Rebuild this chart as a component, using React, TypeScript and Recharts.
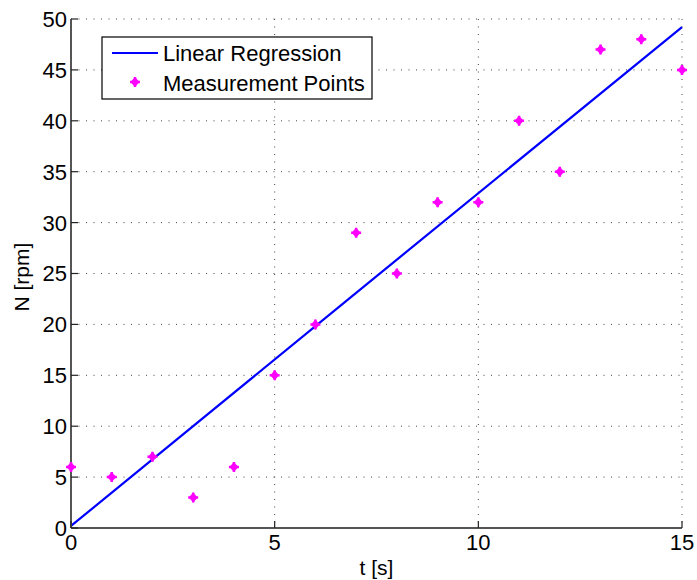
import React from 'react';
import {
  ComposedChart,
  Line,
  Scatter,
  XAxis,
  YAxis,
  CartesianGrid,
} from 'recharts';

// measurement points
const timeValues = [0, 1, 2, 3, 4, 5, 6, 7, 8, 9, 10, 11, 12, 13, 14, 15];
const rpmValues = [6, 5, 7, 3, 6, 15, 20, 29, 25, 32, 32, 40, 35, 47, 48, 45];

// regression line, read at its ends and middle
const fitTime = [0, 7, 15];
const fitRpm = [0.2, 23.1, 49.2];

const xTicks = [0, 5, 10, 15];
const yTicks = [0, 5, 10, 15, 20, 25, 30, 35, 40, 45, 50];
const xMinorTicks = Array.from({ length: 76 }, (_, i) => i / 5);
const yMinorTicks = Array.from({ length: 51 }, (_, i) => i);

const FONT = '"Liberation Sans", Arial, Helvetica, sans-serif';
const MAGENTA = '#ff00ff';
const BLUE = '#0000ff';

const points = timeValues.map((t, i) => ({ t, n: rpmValues[i] }));
const fitLine = fitTime.map((t, i) => ({ t, n: fitRpm[i] }));

function Marker({ cx, cy }: any) {
  if (cx == null || cy == null) return null;
  return (
    <g>
      <path
        d={`M${cx},${cy - 5} L${cx + 4.5},${cy} L${cx},${cy + 5} L${cx - 4.5},${cy} Z`}
        fill={MAGENTA}
      />
      <path
        d={`M${cx - 5},${cy} L${cx + 5},${cy} M${cx},${cy - 5} L${cx},${cy + 5}`}
        stroke={MAGENTA}
        strokeWidth={2.5}
      />
    </g>
  );
}

function XTick({ x, y, payload }: any) {
  return (
    <g>
      <line x1={x} x2={x} y1={y} y2={y - 7} stroke="#222" strokeWidth={1.2} />
      <text x={x} y={y + 22} textAnchor="middle" fontSize={22} fontFamily={FONT} fill="#000">
        {payload.value}
      </text>
    </g>
  );
}

function YTick({ x, y, payload }: any) {
  return (
    <g>
      <line x1={x} x2={x + 7} y1={y} y2={y} stroke="#222" strokeWidth={1.2} />
      <text x={x - 4} y={y} dy="0.36em" textAnchor="end" fontSize={22} fontFamily={FONT} fill="#000">
        {payload.value}
      </text>
    </g>
  );
}

function LegendBox() {
  return (
    <svg
      width={272}
      height={64}
      style={{ position: 'absolute', left: 101, top: 36 }}
    >
      <rect x={1} y={1} width={270} height={62} fill="#fff" stroke="#000" strokeWidth={1.2} />
      <line x1={11} x2={57} y1={17} y2={17} stroke={BLUE} strokeWidth={2} />
      <text x={62} y={25} fontSize={22} fontFamily={FONT} fill="#000">
        Linear Regression
      </text>
      <Marker cx={34} cy={46} />
      <text x={62} y={55} fontSize={22} fontFamily={FONT} fill="#000">
        Measurement Points
      </text>
    </svg>
  );
}

export default function App() {
  return (
    <div style={{ position: 'absolute', left: 0, top: 0, width: 697, height: 580, background: '#fff' }}>
      <ComposedChart
        width={697}
        height={580}
        margin={{ top: 19, right: 15, bottom: 0, left: 0 }}
      >
        <CartesianGrid stroke="#444" strokeDasharray="1 6.5" />
        <XAxis
          xAxisId="minor"
          type="number"
          dataKey="t"
          domain={[0, 15]}
          ticks={xMinorTicks}
          height={1}
          mirror
          tickSize={4}
          tick={false}
          axisLine={false}
          tickLine={{ stroke: '#555' }}
          interval={0}
        />
        <XAxis
          type="number"
          dataKey="t"
          domain={[0, 15]}
          ticks={xTicks}
          height={52}
          tickSize={0}
          tickMargin={0}
          tickLine={false}
          axisLine={{ stroke: '#555', strokeWidth: 2 }}
          tick={<XTick />}
          interval={0}
          label={{ value: 't [s]', position: 'insideBottom', offset: 5, fontSize: 21, fontFamily: FONT, fill: '#000' }}
        />
        <YAxis
          yAxisId="minor"
          type="number"
          domain={[0, 50]}
          ticks={yMinorTicks}
          width={1}
          mirror
          tickSize={4}
          tick={false}
          axisLine={false}
          tickLine={{ stroke: '#555' }}
          interval={0}
        />
        <YAxis
          type="number"
          domain={[0, 50]}
          ticks={yTicks}
          width={71}
          tickSize={0}
          tickMargin={0}
          tickLine={false}
          axisLine={{ stroke: '#555', strokeWidth: 2 }}
          tick={<YTick />}
          interval={0}
          label={{ value: 'N [rpm]', angle: -90, position: 'insideLeft', offset: 22, dy: 38, fontSize: 21, fontFamily: FONT, fill: '#000' }}
        />
        <Line
          data={fitLine}
          dataKey="n"
          type="linear"
          stroke={BLUE}
          strokeWidth={2.2}
          dot={false}
          isAnimationActive={false}
        />
        <Scatter
          data={points}
          dataKey="n"
          fill={MAGENTA}
          shape={<Marker />}
          isAnimationActive={false}
        />
      </ComposedChart>
      <LegendBox />
    </div>
  );
}
